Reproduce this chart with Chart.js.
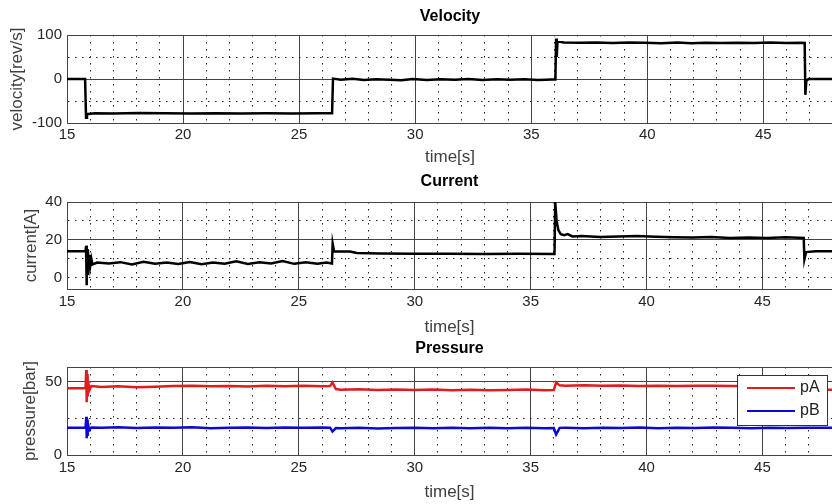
<!DOCTYPE html>
<html>
<head>
<meta charset="utf-8">
<script src="https://cdn.jsdelivr.net/npm/chart.js@4.4.1/dist/chart.umd.min.js"></script>
<style>
html, body { margin: 0; padding: 0; background: #fff; overflow: hidden; width: 832px; height: 504px; }
canvas { position: absolute; left: 0; }
</style>
</head>
<body>
<canvas id="velocityChart" width="836" height="172" style="top:-1px"></canvas>
<canvas id="currentChart" width="836" height="172" style="top:166px"></canvas>
<canvas id="pressureChart" width="836" height="172" style="top:331px"></canvas>
<script>
// Time axis
const xGridValues = [15, 16, 17, 18, 19, 20, 21, 22, 23, 24, 25, 26, 27, 28, 29, 30, 31,
    32, 33, 34, 35, 36, 37, 38, 39, 40, 41, 42, 43, 44, 45, 46, 47, 48];
const xTickLabels = [15, 20, 25, 30, 35, 40, 45];

// Velocity [rev/s]
const velTime = [15.00, 15.78, 15.82, 15.86, 16.20, 17.00, 18.10, 19.20, 20.30, 21.40,
    22.50, 23.60, 24.70, 25.80, 26.42, 26.46, 26.80, 27.30, 27.80, 28.30,
    28.90, 29.40, 29.90, 30.50, 31.10, 31.70, 32.30, 32.90, 33.50, 34.10,
    34.70, 35.30, 35.90, 36.04, 36.07, 36.10, 36.13, 36.40, 37.10, 37.80,
    38.50, 39.20, 39.90, 40.60, 41.30, 41.90, 42.50, 43.20, 43.90, 44.60,
    45.30, 46.00, 46.60, 46.78, 46.81, 46.85, 46.95, 48.00];
const velValues = [0, 0, -88, -80, -78, -78.5, -77.5, -78, -78.6, -77.6,
    -78.2, -77.8, -78.5, -77.6, -78, 1, -1.5, 0.5, -2, -0.5,
    -1.5, -3, 0, -2, -0.5, -1.8, 0, -2, -0.8, -1.5,
    -0.5, -2, -1, -1, 92, 50, 86, 83, 82.5, 83.2,
    82, 82.8, 82.2, 81.5, 83, 81, 82.3, 81.8, 82.6, 82,
    83, 81.8, 82.5, 82, -36, -4, 0, 0];
const velGrid = [-100, -50, 0, 50, 100];
const velLabels = [-100, 0, 100];
const velSolid = [-100, 0, 100];

// Current [A]
const curTime = [15.00, 15.80, 15.82, 15.84, 15.86, 15.88, 15.90, 15.93, 15.96, 16.00,
    16.05, 16.10, 16.30, 16.80, 17.30, 17.80, 18.30, 18.80, 19.30, 19.80,
    20.30, 20.80, 21.30, 21.80, 22.30, 22.80, 23.30, 23.80, 24.30, 24.80,
    25.30, 25.80, 26.20, 26.43, 26.46, 26.52, 27.20, 27.50, 28.50, 30.00,
    31.50, 33.00, 34.50, 36.03, 36.06, 36.12, 36.20, 36.30, 36.45, 36.60,
    36.80, 37.20, 38.00, 38.80, 39.60, 40.40, 41.20, 42.00, 42.80, 43.60,
    44.40, 45.20, 46.00, 46.78, 46.81, 46.88, 47.30, 48.00];
const curValues = [14, 14, 16.5, -4, 17, 2, 15, 4, 12, 6,
    10, 7, 8, 7.5, 8.2, 7, 8.4, 7.3, 8, 7.2,
    8.3, 7.1, 8, 7.4, 8.6, 7.2, 8.1, 7.5, 8.8, 7.3,
    8.2, 7.4, 8, 7.5, 18, 14, 13.8, 13, 12.8, 12.6,
    12.7, 12.5, 12.6, 12.5, 40, 30, 25, 23, 22.5, 23,
    21.8, 22, 21.5, 21.8, 22, 21.6, 21.4, 21.2, 21.5, 21,
    21.2, 21, 21.3, 21, 9.7, 13.5, 14, 14];
const curGrid = [0, 10, 20, 30, 40];
const curLabels = [0, 20, 40];
const curSolid = [20, 40];

// Pressure [bar]
const presTime = [15.00, 15.80, 15.83, 15.85, 15.87, 15.89, 15.92, 15.96, 16.05, 16.50,
    17.20, 18.00, 18.80, 19.60, 20.40, 21.20, 22.00, 22.80, 23.60, 24.40,
    25.20, 26.00, 26.35, 26.45, 26.60, 26.80, 27.60, 28.40, 29.20, 30.00,
    30.80, 31.60, 32.40, 33.20, 34.00, 34.80, 35.60, 36.00, 36.10, 36.25,
    36.50, 37.30, 38.10, 38.90, 39.70, 40.50, 41.30, 42.10, 42.90, 43.70,
    44.50, 45.30, 46.10, 46.90, 47.10, 48.00];
const pAValues = [45.5, 45.5, 58, 36, 55, 40, 50, 44, 47, 46.3,
    46.8, 46.2, 46.6, 47, 47.3, 46.8, 47.1, 46.7, 47.2, 46.9,
    47.3, 46.8, 47, 49.5, 45, 44.5, 44.8, 44.4, 44.7, 44.3,
    44.6, 44.2, 44.5, 44.1, 44.4, 44.6, 44.2, 44.3, 49.5, 47.5,
    47.3, 47.6, 47.2, 47.4, 47.1, 47.3, 47, 47.2, 47.3, 47,
    46.9, 47, 46.8, 46.8, 44.5, 44.5];
const pBValues = [18.6, 18.6, 26, 11.5, 24, 13, 20, 17, 18.8, 18.5,
    18.9, 18.4, 18.7, 18.5, 18.9, 18.3, 18.6, 18.8, 18.4, 18.7,
    18.5, 18.8, 18.6, 16, 18.4, 18.2, 18.5, 18.1, 18.4, 18.6,
    18.2, 18.5, 18.3, 18.6, 18.2, 18.5, 18.3, 18.4, 14, 18.5,
    18.6, 18.3, 18.6, 18.4, 18.7, 18.3, 18.6, 18.4, 18.7, 18.5,
    18.3, 18.6, 18.4, 18.5, 18.5, 18.5];
const presGrid = [0, 25, 50, 60];
const presLabels = [0, 50];
const presSolid = [0, 50, 60];

const FONT = "'Liberation Sans', Arial, sans-serif";
const SOLID_COLOR = '#444444';
const DOT_COLOR = '#222222';
const DOT_DASH = [1.5, 5.5];

function toPoints(times, values) {
    return times.map((t, i) => ({ x: t, y: values[i] }));
}

// MATLAB style legend box inside the axes
const boxLegend = {
    id: 'boxLegend',
    afterDraw(chart) {
        const ctx = chart.ctx;
        const x = 737, y = 44, w = 90, h = 50;
        ctx.save();
        ctx.fillStyle = '#ffffff';
        ctx.fillRect(x, y, w, h);
        ctx.strokeStyle = '#333333';
        ctx.lineWidth = 1;
        ctx.strokeRect(x + 0.5, y + 0.5, w, h);
        ctx.font = '16px ' + FONT;
        ctx.textBaseline = 'middle';
        chart.data.datasets.forEach((ds, i) => {
            const ly = y + 13 + i * 23;
            ctx.strokeStyle = ds.borderColor;
            ctx.lineWidth = 2;
            ctx.beginPath();
            ctx.moveTo(x + 10, ly);
            ctx.lineTo(x + 58, ly);
            ctx.stroke();
            ctx.fillStyle = '#222222';
            ctx.fillText(ds.label, x + 63, ly);
        });
        ctx.restore();
    }
};

function makeChart(canvasId, cfg) {
    const ctx = document.getElementById(canvasId).getContext('2d');
    return new Chart(ctx, {
        type: 'line',
        data: { datasets: cfg.datasets },
        plugins: cfg.plugins || [],
        options: {
            responsive: false,
            animation: false,
            devicePixelRatio: 1,
            layout: { padding: { left: 0, right: 1, top: 0, bottom: 0 } },
            elements: { point: { radius: 0 }, line: { tension: 0 } },
            plugins: {
                legend: { display: false },
                tooltip: { enabled: false },
                title: {
                    display: true,
                    text: cfg.title,
                    fullSize: false,
                    color: '#000000',
                    font: { family: FONT, size: 16, weight: 'bold' },
                    padding: { top: cfg.titlePad[0], bottom: cfg.titlePad[1] }
                }
            },
            scales: {
                x: {
                    type: 'linear',
                    min: 15,
                    max: 48,
                    afterFit: (scale) => { scale.height = cfg.xHeight; },
                    afterBuildTicks: (scale) => {
                        scale.ticks = xGridValues.map(v => ({ value: v }));
                    },
                    ticks: {
                        autoSkip: false,
                        maxRotation: 0,
                        padding: cfg.xTickPad,
                        color: '#262626',
                        font: { family: FONT, size: 15 },
                        callback: (v) => xTickLabels.includes(v) ? String(v) : ''
                    },
                    grid: {
                        drawTicks: false,
                        lineWidth: 1,
                        color: (c) => (c.tick && c.tick.value % 5 === 0) ? SOLID_COLOR : DOT_COLOR
                    },
                    border: {
                        display: true,
                        color: SOLID_COLOR,
                        width: 1,
                        dash: (c) => (c.tick && c.tick.value % 5 !== 0) ? DOT_DASH : []
                    },
                    title: {
                        display: true,
                        text: 'time[s]',
                        color: '#404040',
                        font: { family: FONT, size: 17 },
                        padding: { top: 0, bottom: cfg.xTitlePad }
                    }
                },
                y: {
                    min: cfg.yMin,
                    max: cfg.yMax,
                    afterFit: (scale) => { scale.width = 67; },
                    afterBuildTicks: (scale) => {
                        scale.ticks = cfg.yGrid.map(v => ({ value: v }));
                    },
                    ticks: {
                        padding: 5,
                        color: '#262626',
                        font: { family: FONT, size: 15 },
                        callback: (v) => cfg.yLabels.includes(v) ? String(v) : ''
                    },
                    grid: {
                        drawTicks: false,
                        lineWidth: 1,
                        color: (c) => (c.tick && cfg.ySolid.includes(c.tick.value)) ? SOLID_COLOR : DOT_COLOR
                    },
                    border: {
                        display: true,
                        color: SOLID_COLOR,
                        width: 1,
                        dash: (c) => (c.tick && !cfg.ySolid.includes(c.tick.value)) ? DOT_DASH : []
                    },
                    title: {
                        display: true,
                        text: cfg.yTitle,
                        color: '#404040',
                        font: { family: FONT, size: 17 },
                        padding: { top: cfg.yTitlePad, bottom: 0 }
                    }
                }
            }
        }
    });
}

makeChart('velocityChart', {
    title: 'Velocity',
    yTitle: 'velocity[rev/s]',
    yMin: -100, yMax: 100,
    yGrid: velGrid, yLabels: velLabels, ySolid: velSolid,
    titlePad: [7.9, 8.9], xHeight: 48, xTickPad: 3, xTitlePad: 3.3, yTitlePad: 7,
    datasets: [{
        label: 'velocity',
        data: toPoints(velTime, velValues),
        borderColor: '#000000',
        borderWidth: 2.5
    }]
});

makeChart('currentChart', {
    title: 'Current',
    yTitle: 'current[A]',
    yMin: -6, yMax: 40,
    yGrid: curGrid, yLabels: curLabels, ySolid: curSolid,
    titlePad: [5.9, 10.9], xHeight: 49, xTickPad: 4, xTitlePad: 0.3, yTitlePad: 21.5,
    datasets: [{
        label: 'current',
        data: toPoints(curTime, curValues),
        borderColor: '#000000',
        borderWidth: 2.5
    }]
});

makeChart('pressureChart', {
    title: 'Pressure',
    yTitle: 'pressure[bar]',
    yMin: 0, yMax: 60,
    yGrid: presGrid, yLabels: presLabels, ySolid: presSolid,
    titlePad: [7.9, 8.9], xHeight: 48, xTickPad: 4, xTitlePad: 0.8, yTitlePad: 19.8,
    plugins: [boxLegend],
    datasets: [{
        label: 'pA',
        data: toPoints(presTime, pAValues),
        borderColor: '#e01c1c',
        borderWidth: 2.5
    }, {
        label: 'pB',
        data: toPoints(presTime, pBValues),
        borderColor: '#0a0ad2',
        borderWidth: 2.5
    }]
});
</script>
</body>
</html>
